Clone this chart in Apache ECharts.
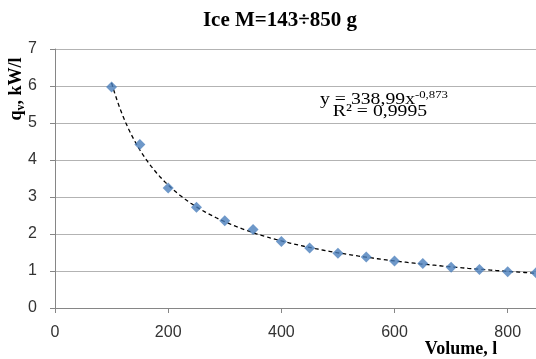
<!DOCTYPE html>
<html><head><meta charset="utf-8">
<script src="https://cdn.jsdelivr.net/npm/echarts@6/dist/echarts.min.js"></script>
<style>html,body{margin:0;padding:0;background:#fff}#c{width:536px;height:359px}</style>
</head><body><div id="c"></div>
<script>
var volumes = [100,150,200,250,300,350,400,450,500,550,600,650,700,750,800,850];
var qv = [5.97,4.42,3.24,2.72,2.36,2.12,1.80,1.62,1.48,1.38,1.27,1.20,1.10,1.04,0.98,0.95];
var trendCoef = [338.99, -0.873];
var yTicks = [0,1,2,3,4,5,6,7];
var xTicks = [0,200,400,600,800];

var points = volumes.map(function(v,i){return [v, qv[i]];});
var trend = [];
for (var x = volumes[0]; x <= volumes[volumes.length-1]; x += 5) {
  trend.push([x, trendCoef[0]*Math.pow(x, trendCoef[1])]);
}
var serif = '"Liberation Serif","Times New Roman",serif';
var sans = '"Liberation Sans",Arial,sans-serif';
var chart = echarts.init(document.getElementById('c'), null, {renderer:'canvas'});
chart.setOption({
  animation:false,
  grid:{left:55, right:0, top:49, bottom:51},
  xAxis:{type:'value', min:xTicks[0], max:850, interval:200,
    axisLine:{show:true, lineStyle:{color:'#868686'}},
    axisTick:{show:true, length:5, lineStyle:{color:'#868686'}},
    splitLine:{show:false},
    axisLabel:{fontFamily:sans, fontSize:16, color:'#333', margin:17, showMaxLabel:false}
  },
  yAxis:{type:'value', min:yTicks[0], max:yTicks[yTicks.length-1], interval:1,
    axisLine:{show:true, lineStyle:{color:'#868686'}},
    axisTick:{show:true, length:5, lineStyle:{color:'#868686'}},
    splitLine:{show:true, lineStyle:{color:'#b3b3b3'}},
    axisLabel:{fontFamily:sans, fontSize:16, color:'#333', margin:18}
  },
  series:[
    {type:'line', data:trend, showSymbol:false, symbol:'none',
      lineStyle:{color:'#000', width:1.3, type:[4,3]}, z:2},
    {type:'scatter', data:points, symbol:'diamond', symbolSize:11,
      itemStyle:{color:'#4a7ebb'}, z:3}
  ],
  graphic:[
    {type:'text', x:280, y:21, style:{text:'Ice M=143÷850 g', fontFamily:serif, fontWeight:'bold',
      fontSize:21, fill:'#000', align:'center', verticalAlign:'middle'}},
    {type:'text', x:384, y:99, scaleX:1.16, style:{
      text:'{n|y = 338,99x}{s|-0,873}', align:'center', verticalAlign:'middle', rich:{
        n:{fontFamily:serif, fontSize:17, fill:'#000', verticalAlign:'bottom'},
        s:{fontFamily:serif, fontSize:11, fill:'#000', verticalAlign:'top', padding:[0,0,8,0]}
      }}},
    {type:'text', x:380, y:112, scaleX:1.16, style:{text:'R² = 0,9995', fontFamily:serif, fontSize:17, fill:'#000',
      align:'center', verticalAlign:'middle'}},
    {type:'text', x:461, y:349, style:{text:'Volume, l', fontFamily:serif, fontSize:18, fontWeight:'bold',
      fill:'#000', align:'center', verticalAlign:'middle'}},
    {type:'text', x:16, y:89, rotation:Math.PI/2, style:{
      text:'{a|q}{b|v}{a|, kW/l}', align:'center', verticalAlign:'middle', rich:{
        a:{fontFamily:serif, fontSize:18, fontWeight:'bold', fill:'#000'},
        b:{fontFamily:serif, fontSize:12, fontWeight:'bold', fill:'#000', padding:[9,0,0,0]}
      }}}
  ]
});
</script></body></html>
